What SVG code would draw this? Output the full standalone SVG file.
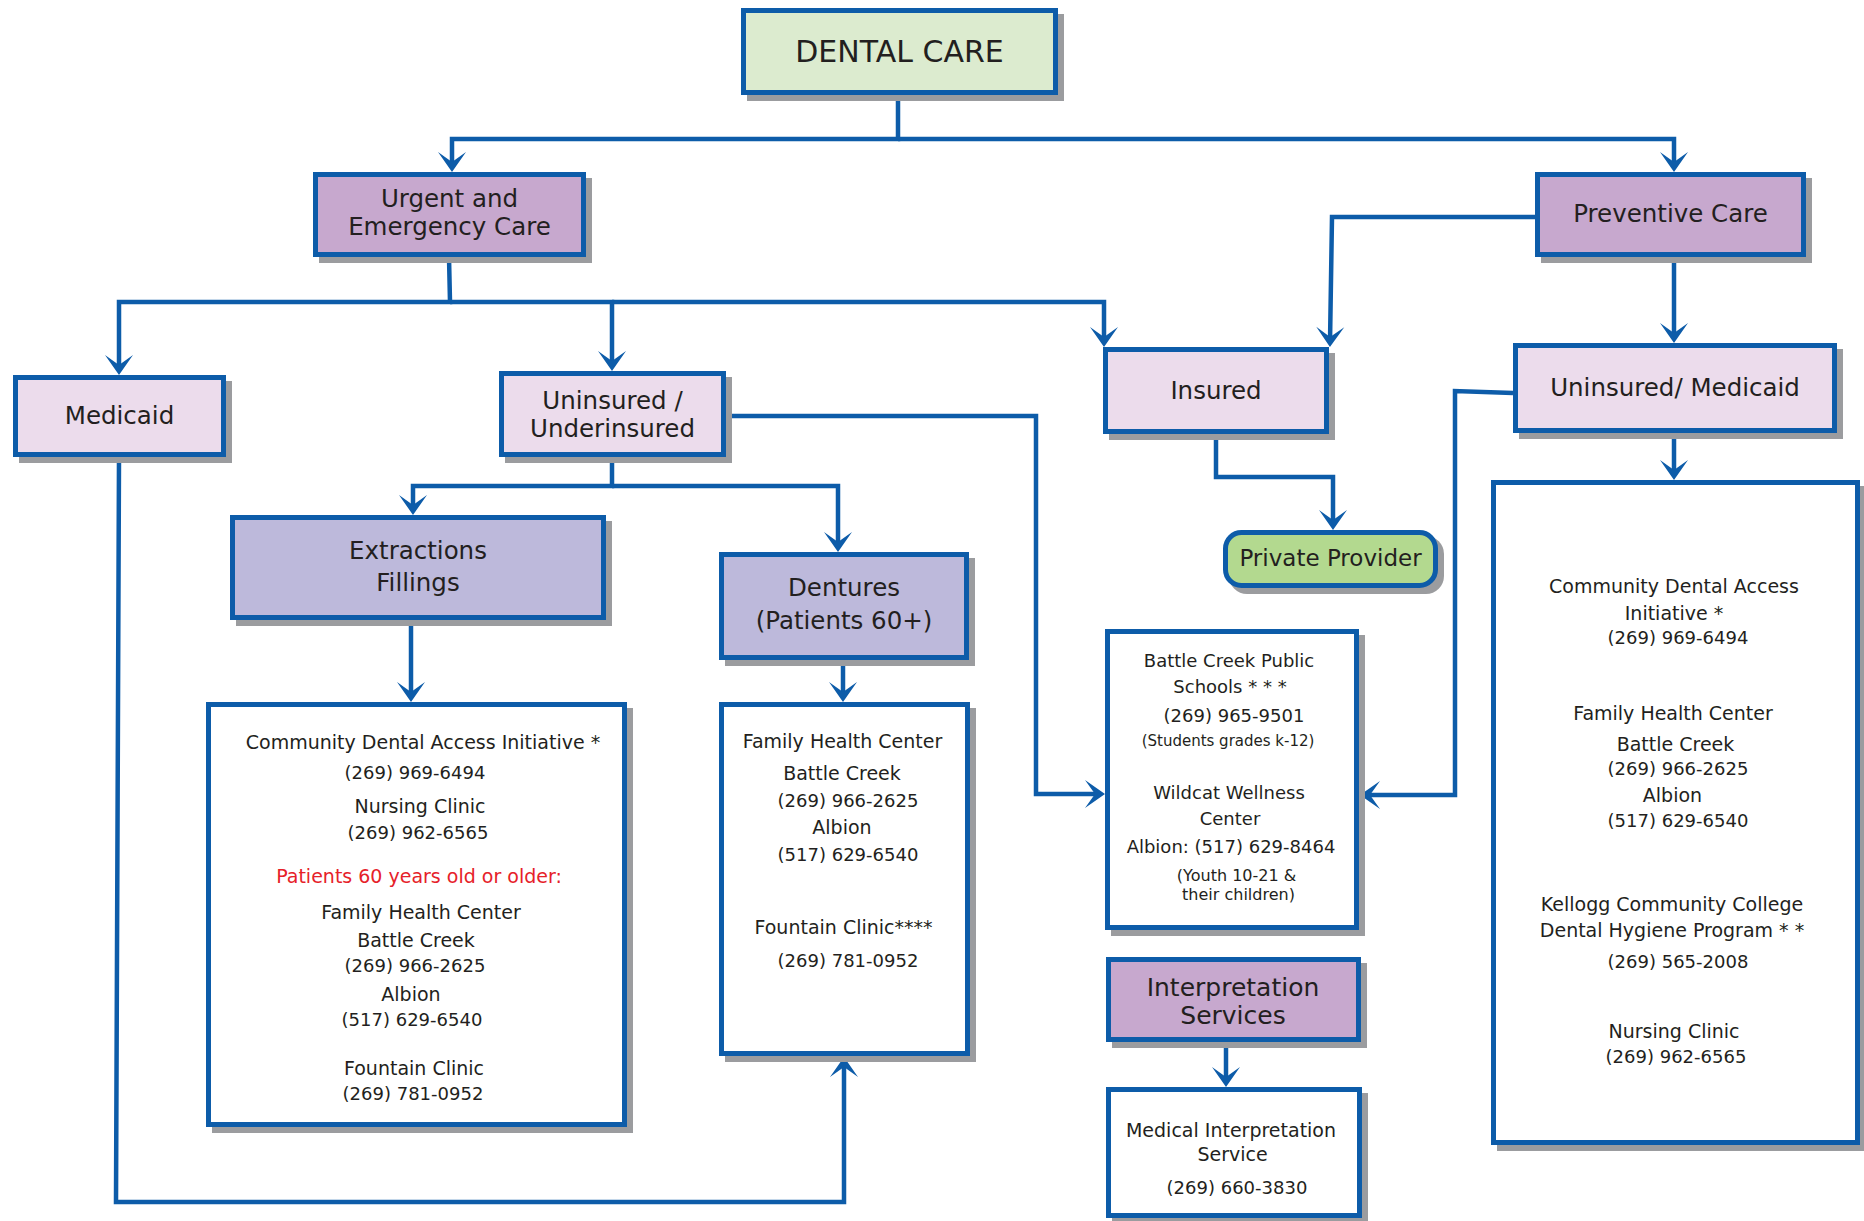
<svg xmlns="http://www.w3.org/2000/svg" width="1864" height="1221" viewBox="0 0 1864 1221">
<defs>
<style>
.bx{stroke:#0d5ca9;stroke-width:5}
.sh{fill:#9b9c9f}
.green{fill:#dcebcf}
.purple{fill:#c7a8ce}
.pink{fill:#ecdcec}
.lav{fill:#bdb9db}
.white{fill:#ffffff}
.pp{fill:#b3d98f}
.conn{fill:none;stroke:#0d5ca9;stroke-width:4.5;stroke-linejoin:miter}
text{font-family:"DejaVu Sans","Liberation Sans",sans-serif;fill:#231f20;text-anchor:middle}
.t1{font-size:30px}
.h{font-size:24.5px}
.b{font-size:19px}
.b18{font-size:18px}
.p{font-size:18px}
.s{font-size:16px}
.red{fill:#e62129}
</style>
<marker id="arr" markerUnits="userSpaceOnUse" viewBox="-24 -15 26 30" markerWidth="26" markerHeight="30" refX="-4" refY="0" orient="auto">
<path d="M0,0 L-20,-14 L-10,0 L-20,14 Z" fill="#0d5ca9"/>
</marker>
</defs>
<rect width="1864" height="1221" fill="#ffffff"/>

<g id="connectors" class="conn">
<path d="M898,95 V139 H452 V168" marker-end="url(#arr)"/>
<path d="M898,139 H1674 V168" marker-end="url(#arr)"/>
<path d="M449,257 L450,302 H119 V371" marker-end="url(#arr)"/>
<path d="M450,302 H612 V367" marker-end="url(#arr)"/>
<path d="M612,302 H1104 V343" marker-end="url(#arr)"/>
<path d="M1535,217 H1332 L1330,343" marker-end="url(#arr)"/>
<path d="M1674,257 V339" marker-end="url(#arr)"/>
<path d="M1216,434 V477 H1333 V526" marker-end="url(#arr)"/>
<path d="M1674,433 V476" marker-end="url(#arr)"/>
<path d="M1513,393 L1455,391 V795 H1364" marker-end="url(#arr)"/>
<path d="M726,416 H1036 V794 H1101" marker-end="url(#arr)"/>
<path d="M612,457 V486 H413 V511" marker-end="url(#arr)"/>
<path d="M612,486 H838 V548" marker-end="url(#arr)"/>
<path d="M411,620 V698" marker-end="url(#arr)"/>
<path d="M843,660 V698" marker-end="url(#arr)"/>
<path d="M119,457 L116,1202 H844 V1061" marker-end="url(#arr)"/>
<path d="M1226,1042 V1083" marker-end="url(#arr)"/>
</g>

<g id="dental-care">
<rect class="sh" x="747" y="14" width="317" height="87"/>
<rect class="bx green" x="743.5" y="10.5" width="312" height="82"/>
<text class="t1" x="899.5" y="62">DENTAL CARE</text>
</g>

<g id="urgent">
<rect class="sh" x="319" y="178" width="273" height="85"/>
<rect class="bx purple" x="315.5" y="174.5" width="268" height="80"/>
<text class="h" x="449.5" y="207">Urgent and</text>
<text class="h" x="449.5" y="235">Emergency Care</text>
</g>

<g id="preventive">
<rect class="sh" x="1541" y="178" width="271" height="85"/>
<rect class="bx purple" x="1537.5" y="174.5" width="266" height="80"/>
<text class="h" x="1670.5" y="222">Preventive Care</text>
</g>

<g id="medicaid">
<rect class="sh" x="19" y="381" width="213" height="82"/>
<rect class="bx pink" x="15.5" y="377.5" width="208" height="77"/>
<text class="h" x="119.5" y="424">Medicaid</text>
</g>

<g id="uninsured-underinsured">
<rect class="sh" x="505" y="377" width="227" height="86"/>
<rect class="bx pink" x="501.5" y="373.5" width="222" height="81"/>
<text class="h" x="612.5" y="409">Uninsured /</text>
<text class="h" x="612.5" y="437">Underinsured</text>
</g>

<g id="insured">
<rect class="sh" x="1109" y="353" width="226" height="87"/>
<rect class="bx pink" x="1105.5" y="349.5" width="221" height="82"/>
<text class="h" x="1216" y="399">Insured</text>
</g>

<g id="uninsured-medicaid">
<rect class="sh" x="1519" y="349" width="324" height="90"/>
<rect class="bx pink" x="1515.5" y="345.5" width="319" height="85"/>
<text class="h" x="1675" y="396">Uninsured/ Medicaid</text>
</g>

<g id="extractions">
<rect class="sh" x="236" y="521" width="376" height="105"/>
<rect class="bx lav" x="232.5" y="517.5" width="371" height="100"/>
<text class="h" x="418" y="559">Extractions</text>
<text class="h" x="418" y="591">Fillings</text>
</g>

<g id="dentures">
<rect class="sh" x="725" y="558" width="250" height="108"/>
<rect class="bx lav" x="721.5" y="554.5" width="245" height="103"/>
<text class="h" x="844" y="596">Dentures</text>
<text class="h" x="844" y="629">(Patients 60+)</text>
</g>

<g id="extractions-list">
<rect class="sh" x="212" y="708" width="421" height="425"/>
<rect class="bx white" x="208.5" y="704.5" width="416" height="420"/>
<text class="b" x="423" y="749">Community Dental Access Initiative *</text>
<text class="p" x="415" y="779">(269) 969-6494</text>
<text class="b" x="420" y="813">Nursing Clinic</text>
<text class="p" x="418" y="839">(269) 962-6565</text>
<text class="b red" x="419" y="883">Patients 60 years old or older:</text>
<text class="b" x="421" y="919">Family Health Center</text>
<text class="b" x="416" y="947">Battle Creek</text>
<text class="p" x="415" y="972">(269) 966-2625</text>
<text class="b" x="411" y="1001">Albion</text>
<text class="p" x="412" y="1026">(517) 629-6540</text>
<text class="b" x="414" y="1075">Fountain Clinic</text>
<text class="p" x="413" y="1100">(269) 781-0952</text>
</g>

<g id="dentures-list">
<rect class="sh" x="725" y="708" width="251" height="354"/>
<rect class="bx white" x="721.5" y="704.5" width="246" height="349"/>
<text class="b" x="842.5" y="748">Family Health Center</text>
<text class="b" x="842" y="780">Battle Creek</text>
<text class="p" x="848" y="807">(269) 966-2625</text>
<text class="b" x="842" y="834">Albion</text>
<text class="p" x="848" y="861">(517) 629-6540</text>
<text class="b" x="843.5" y="934">Fountain Clinic****</text>
<text class="p" x="848" y="967">(269) 781-0952</text>
</g>

<g id="private-provider">
<rect class="sh" x="1229" y="536" width="215" height="58" rx="18"/>
<rect class="bx pp" x="1225.5" y="532.5" width="210" height="53" rx="16"/>
<text x="1330.5" y="566" style="font-size:23px">Private Provider</text>
</g>

<g id="schools-list">
<rect class="sh" x="1111" y="635" width="254" height="301"/>
<rect class="bx white" x="1107.5" y="631.5" width="249" height="296"/>
<text class="b18" x="1229" y="667">Battle Creek Public</text>
<text class="b18" x="1230" y="693">Schools * * *</text>
<text class="p" x="1234" y="722">(269) 965-9501</text>
<text class="s" x="1228" y="746" style="font-size:15px">(Students grades k-12)</text>
<text class="b18" x="1229" y="799">Wildcat Wellness</text>
<text class="b18" x="1230" y="825">Center</text>
<text class="b18" x="1231" y="853">Albion: (517) 629-8464</text>
<text class="s" x="1236.5" y="881">(Youth 10-21 &amp;</text>
<text class="s" x="1238.5" y="900">their children)</text>
</g>

<g id="interpretation">
<rect class="sh" x="1112" y="963" width="255" height="85"/>
<rect class="bx purple" x="1108.5" y="959.5" width="250" height="80"/>
<text x="1233" y="995.5" style="font-size:25px">Interpretation</text>
<text x="1233" y="1024" style="font-size:25px">Services</text>
</g>

<g id="medical-interpretation">
<rect class="sh" x="1112" y="1093" width="256" height="131"/>
<rect class="bx white" x="1108.5" y="1089.5" width="251" height="126"/>
<text class="b" x="1231" y="1137">Medical Interpretation</text>
<text class="b" x="1232.5" y="1160.5">Service</text>
<text class="p" x="1237" y="1193.5">(269) 660-3830</text>
</g>

<g id="preventive-list">
<rect class="sh" x="1497" y="486" width="369" height="665"/>
<rect class="bx white" x="1493.5" y="482.5" width="364" height="660"/>
<text class="b" x="1674" y="592.6">Community Dental Access</text>
<text class="b" x="1674" y="620">Initiative *</text>
<text class="p" x="1678" y="644">(269) 969-6494</text>
<text class="b" x="1673" y="720">Family Health Center</text>
<text class="b" x="1675.5" y="751">Battle Creek</text>
<text class="p" x="1678" y="775">(269) 966-2625</text>
<text class="b" x="1672.5" y="801.5">Albion</text>
<text class="p" x="1678" y="827">(517) 629-6540</text>
<text class="b" x="1672" y="911">Kellogg Community College</text>
<text class="b" x="1672" y="937">Dental Hygiene Program * *</text>
<text class="p" x="1678" y="968">(269) 565-2008</text>
<text class="b" x="1674" y="1038">Nursing Clinic</text>
<text class="p" x="1676" y="1063">(269) 962-6565</text>
</g>
</svg>
